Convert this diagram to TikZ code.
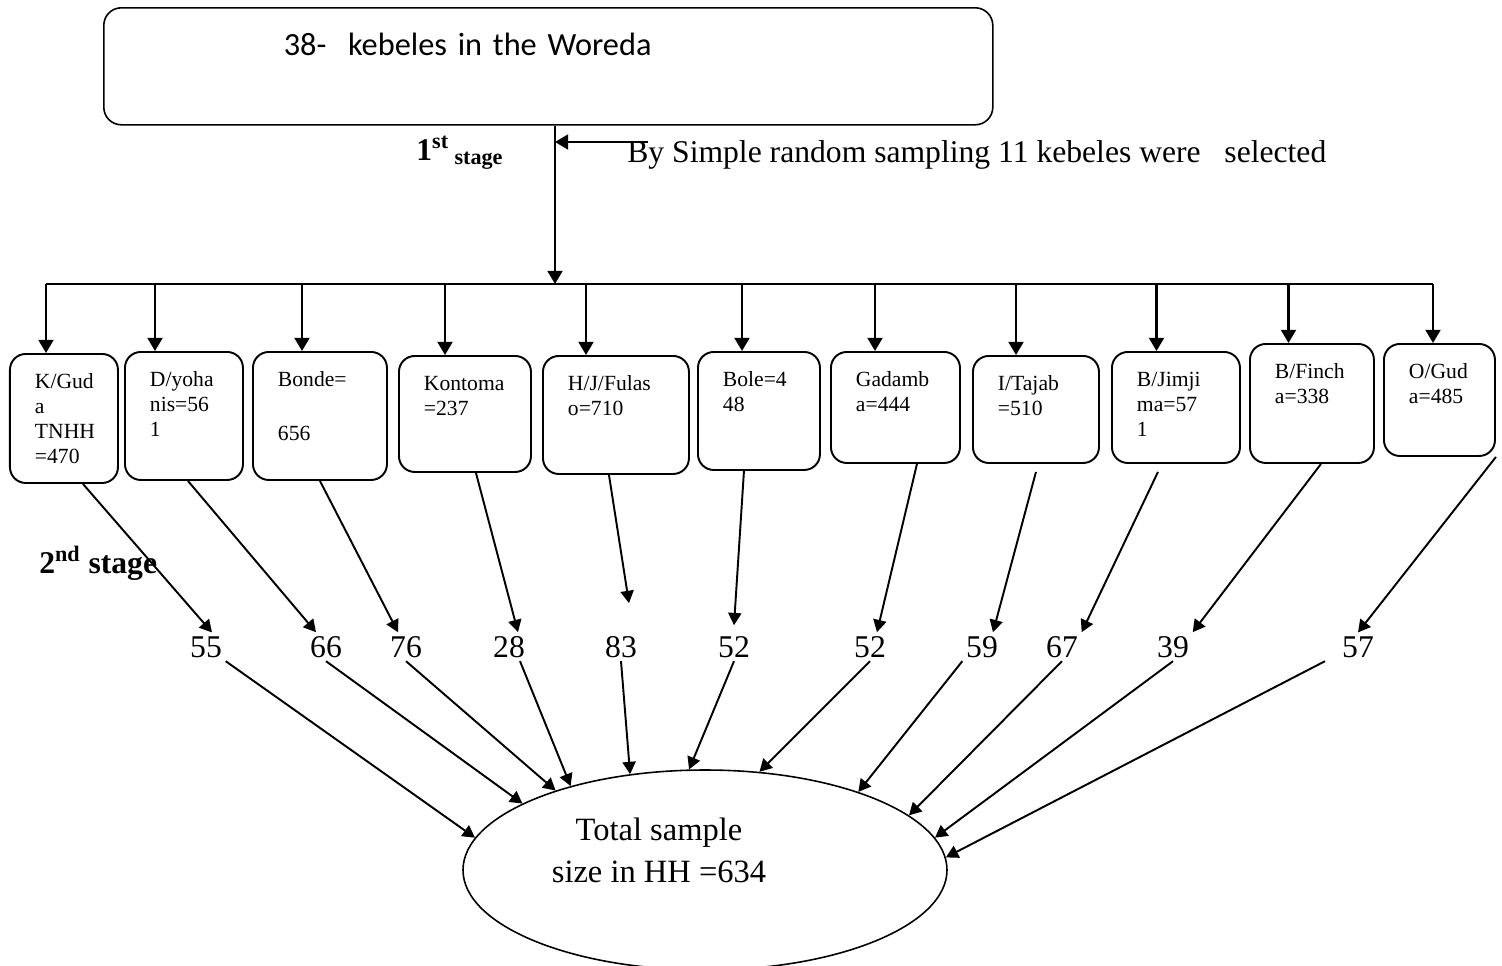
\documentclass[tikz,border=0pt]{standalone}
\usepackage{fontspec}
\setmainfont{Liberation Serif}
\newfontfamily\calibri{Carlito}
\usetikzlibrary{arrows.meta,shapes.geometric}

\begin{document}
\begin{tikzpicture}[
    kebele/.style={rectangle, draw=black, line width=1.1pt, rounded corners=9pt, align=left, anchor=north west, font=\fontsize{12.3}{14.2}\selectfont, inner xsep=0.5cm, inner ysep=0.2cm, text height=0.5cm},
    flecha/.style={-{Triangle[length=7.5pt,width=8.5pt]}, line width=1.3pt},
    flechab/.style={-{Triangle[length=7pt,width=7.5pt]}, line width=1.1pt},
    linea/.style={line width=1.3pt},
    cifra/.style={font=\fontsize{18}{22}\selectfont, inner sep=2pt, anchor=base},
    etapa/.style={font=\fontsize{18}{22}\selectfont\bfseries, inner sep=0pt, anchor=base west},
]

\useasboundingbox (0,0) rectangle (30.04,-19.30);

\node (woreda) [rectangle, draw=black, line width=0.9pt, rounded corners=10pt, anchor=north west, align=left, font=\calibri\fontsize{18.4}{23}\selectfont, inner xsep=3.6cm, inner ysep=0.2cm, text width=10.58cm, text height=0.76cm, text depth=1.18cm] at (2.06,-0.14) {38-~~kebeles in the Woreda};

\coordinate (cen) at (11.10,-5.68);
\coordinate (sel) at (12.96,-2.84);

\node (etapa1) [etapa] at (8.32,-3.20) {1\textsuperscript{st}\textsubscript{ stage}};
\node (muestreo) [anchor=base west, font=\fontsize{18}{22}\selectfont, inner sep=0pt] at (12.54,-3.24) {By Simple random sampling 11 kebeles were~~~selected};

\draw [flecha] (woreda.south -| cen) -- (cen);
\draw [flecha] (sel) -- (sel -| cen);

% reparto a los kebeles
\coordinate (b1) at (0.92,-5.68);
\coordinate (b2) at (3.10,-5.68);
\coordinate (b3) at (6.04,-5.68);
\coordinate (b4) at (8.90,-5.68);
\coordinate (b5) at (11.72,-5.68);
\coordinate (b6) at (14.84,-5.68);
\coordinate (b7) at (17.50,-5.68);
\coordinate (b8) at (20.32,-5.68);
\coordinate (b9) at (23.13,-5.68);
\coordinate (b10) at (25.77,-5.68);
\coordinate (b11) at (28.66,-5.68);
\draw [linea] (b1) -- (b11);

\node (kguda) [kebele, text width=1.16cm, text depth=1.68cm] at (0.18,-7.06) {K/Gud\\a\\TNHH\\=470};
\node (dyohanis) [kebele, text width=1.36cm, text depth=1.66cm] at (2.48,-7.02) {D/yoha\\nis=56\\1};
\node (bonde) [kebele, text width=1.68cm, text depth=1.66cm] at (5.04,-7.02) {Bonde=\\[16pt]656};
\node (kontoma) [kebele, text width=1.64cm, text depth=1.42cm] at (7.96,-7.10) {Kontoma\\=237};
\node (fulaso) [kebele, text width=1.92cm, text depth=1.46cm] at (10.84,-7.10) {H/J/Fulas\\o=710};
\node (bole) [kebele, text width=1.44cm, text depth=1.46cm] at (13.94,-7.02) {Bole=4\\48};
\node (gadamba) [kebele, text width=1.58cm, text depth=1.32cm] at (16.60,-7.02) {Gadamb\\a=444};
\node (tajaba) [kebele, text width=1.52cm, text depth=1.24cm] at (19.44,-7.10) {I/Tajab\\=510};
\node (jimjima) [kebele, text width=1.56cm, text depth=1.32cm] at (22.22,-7.02) {B/Jimji\\ma=57\\1};
\node (fincha) [kebele, text width=1.48cm, text depth=1.48cm] at (24.98,-6.86) {B/Finch\\a=338};
\node (oguda) [kebele, text width=1.22cm, text depth=1.34cm] at (27.66,-6.86) {O/Gud\\a=485};

\draw [flecha] (b1) -- (b1 |- kguda.north);
\draw [flecha] (b2) -- (b2 |- dyohanis.north);
\draw [flecha] (b3) -- (b3 |- bonde.north);
\draw [flecha] (b4) -- (b4 |- kontoma.north);
\draw [flecha] (b5) -- (b5 |- fulaso.north);
\draw [flecha] (b6) -- (b6 |- bole.north);
\draw [flecha] (b7) -- (b7 |- gadamba.north);
\draw [flecha] (b8) -- (b8 |- tajaba.north);
\draw [flecha] (b9) -- (b9 |- jimjima.north);
\draw [flecha] (b10) -- (b10 |- fincha.north);
\draw [flecha] (b11) -- (b11 |- oguda.north);

\node (etapa2) [etapa] at (0.78,-11.46) {2\textsuperscript{nd} stage};

% muestras por kebele
\node (n55) [cifra] at (4.12,-13.14) {55};
\node (n66) [cifra] at (6.52,-13.14) {66};
\node (n76) [cifra] at (8.12,-13.14) {76};
\node (n28) [cifra] at (10.18,-13.14) {28};
\node (n83) [cifra] at (12.42,-13.14) {83};
\node (n52a) [cifra] at (14.68,-13.14) {52};
\node (n52b) [cifra] at (17.40,-13.14) {52};
\node (n59) [cifra] at (19.64,-13.14) {59};
\node (n67) [cifra] at (21.24,-13.14) {67};
\node (n39) [cifra] at (23.46,-13.14) {39};
\node (n57) [cifra] at (27.16,-13.14) {57};

\draw [flechab] ([xshift=0.38cm]kguda.south) -- ([xshift=0.12cm]n55.north);
\draw [flechab] ([xshift=0.08cm]dyohanis.south) -- ([xshift=-0.2cm]n66.north);
\draw [flechab] (bonde.south) -- ([xshift=-0.16cm]n76.north);
\draw [flechab] ([xshift=0.22cm]kontoma.south) -- ([xshift=0.18cm]n28.north);
\draw [flechab] ([xshift=-0.14cm]fulaso.south) -- ([xshift=0.16cm,yshift=0.58cm]n83.north);
\draw [flechab] ([xshift=-0.3cm]bole.south) -- ([yshift=0.14cm]n52a.north);
\draw [flechab] ([xshift=0.43cm]gadamba.south) -- ([xshift=0.14cm]n52b.north);
\draw [flechab] ([yshift=-0.16cm]tajaba.south) -- ([xshift=0.22cm]n59.north);
\draw [flechab] ([xshift=-0.36cm,yshift=-0.16cm]jimjima.south) -- (n67.north east);
\draw [flechab] ([xshift=0.18cm]fincha.south) -- (n39.north east);
\draw [flechab] (oguda.south east) -- (n57.north);

% total
\node (total) [ellipse, draw=black, line width=0.9pt, minimum width=9.68cm, minimum height=4cm, inner sep=0pt] at (14.10,-17.40) {};
\node (totaltxt) [align=center, font=\fontsize{18.5}{23.8}\selectfont] at (13.18,-17.00) {Total sample\\size in HH =634};

\draw [flechab] (n55.south east) -- (total.172);
\draw [flechab] (n66.south) -- (total.160);
\draw [flechab] (n76.south) -- (total.152);
\draw [flechab] ([xshift=0.22cm]n28.south) -- (total.148);
\draw [flechab] (n83.south) -- (total.128);
\draw [flechab] (n52a.south) -- (total.99);
\draw [flechab] (n52b.south) -- (total.61);
\draw [flechab] (n59.south west) -- (total.27);
\draw [flechab] (n67.south) -- (total.15);
\draw [flechab] (n39.south) -- (total.8);
\draw [flechab] ([xshift=-0.66cm]n57.south) -- (total.3);

\end{tikzpicture}
\end{document}
